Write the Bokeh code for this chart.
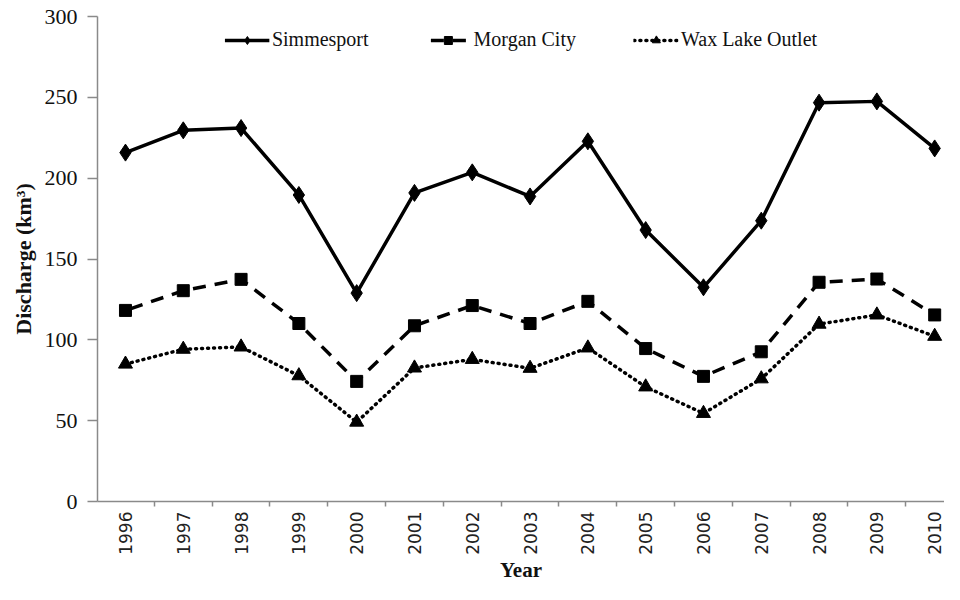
import math
from bokeh.plotting import figure
from bokeh.embed import file_html
from bokeh.resources import INLINE
from bokeh.models import FixedTicker, Range1d, Legend, LegendItem

years = [1996, 1997, 1998, 1999, 2000, 2001, 2002, 2003, 2004, 2005, 2006, 2007, 2008, 2009, 2010]
simmesport = [215.8, 229.6, 231.0, 189.6, 128.9, 190.9, 203.6, 188.7, 222.8, 167.9, 132.5, 173.7, 246.7, 247.5, 218.4]
morgan_city = [118.2, 130.4, 137.4, 110.1, 74.3, 108.7, 121.2, 110.1, 123.8, 94.6, 77.4, 92.6, 135.6, 137.6, 115.4]
wax_lake = [85.0, 94.2, 95.6, 77.8, 49.1, 82.6, 87.9, 82.4, 95.0, 70.9, 54.5, 75.9, 109.7, 115.4, 102.2]
y_ticks = [0, 50, 100, 150, 200, 250, 300]

p = figure(width=944, height=584, output_backend="svg", toolbar_location=None,
           x_range=Range1d(1995.516, 2010.17), y_range=Range1d(0, 300),
           min_border_left=97, min_border_right=0, min_border_top=16, min_border_bottom=76)
p.outline_line_color = None
p.xgrid.visible = False
p.ygrid.visible = False
p.background_fill_color = "white"
p.border_fill_color = "white"

axis_col = "#8a8a8a"

# x axis
xt = FixedTicker(ticks=years, minor_ticks=[y - 0.5 for y in years] + [2010.5])
p.xaxis.ticker = xt
p.xaxis.major_tick_out = 0
p.xaxis.major_tick_in = 0
p.xaxis.minor_tick_out = 5
p.xaxis.minor_tick_in = 0
p.xaxis.minor_tick_line_color = axis_col
p.xaxis.minor_tick_line_width = 1.5
p.xaxis.axis_line_color = axis_col
p.xaxis.axis_line_width = 1.5
p.xaxis.major_label_orientation = math.pi / 2
p.xaxis.major_label_text_font = "DejaVu Sans"
p.xaxis.major_label_text_font_size = "17px"
p.xaxis.major_label_text_color = "#222222"
p.xaxis.major_label_standoff = 5
p.xaxis.axis_label = "Year"
p.xaxis.axis_label_text_font = "Liberation Serif"
p.xaxis.axis_label_text_font_style = "bold"
p.xaxis.axis_label_text_font_size = "21px"
p.xaxis.axis_label_text_color = "#111111"
p.xaxis.axis_label_standoff = 0

# y axis
p.yaxis.ticker = FixedTicker(ticks=y_ticks)
p.yaxis.minor_tick_line_color = None
p.yaxis.major_tick_out = 10
p.yaxis.major_tick_in = 0
p.yaxis.major_tick_line_color = axis_col
p.yaxis.major_tick_line_width = 1.5
p.yaxis.axis_line_color = axis_col
p.yaxis.axis_line_width = 1.5
p.yaxis.major_label_text_font = "Liberation Serif"
p.yaxis.major_label_text_font_size = "22px"
p.yaxis.major_label_text_color = "#111111"
p.yaxis.major_label_standoff = 10
p.yaxis.axis_label = "Discharge (km³)"
p.yaxis.axis_label_text_font = "Liberation Serif"
p.yaxis.axis_label_text_font_style = "bold"
p.yaxis.axis_label_text_font_size = "22px"
p.yaxis.axis_label_text_color = "#111111"
p.yaxis.axis_label_standoff = 6

# series
l1 = p.line(years, simmesport, line_color="black", line_width=3.5)
m1 = p.scatter(years, simmesport, marker="diamond", size=17, color="black")
l2 = p.line(years, morgan_city, line_color="black", line_width=3.5, line_dash="13 9", line_dash_offset=17)
m2 = p.scatter(years, morgan_city, marker="square", size=12, color="black")
l3 = p.line(years, wax_lake, line_color="black", line_width=3.5, line_dash="1 5", line_cap="round")
m3 = p.scatter(years, wax_lake, marker="triangle", size=14, color="black")

legend = Legend(items=[
    LegendItem(label="Simmesport", renderers=[l1, m1]),
    LegendItem(label="Morgan City", renderers=[l2, m2]),
    LegendItem(label="Wax Lake Outlet", renderers=[l3, m3]),
], orientation="horizontal", location="top_center")
legend.glyph_width = 45
legend.glyph_height = 20
legend.label_standoff = 3
legend.spacing = 57
legend.padding = 0
legend.margin = 12
legend.border_line_color = None
legend.background_fill_alpha = 0
legend.label_text_font = "Liberation Serif"
legend.label_text_font_size = "20px"
legend.label_text_color = "#111111"
p.add_layout(legend, "center")

open("out.html", "w").write(file_html(p, INLINE))
